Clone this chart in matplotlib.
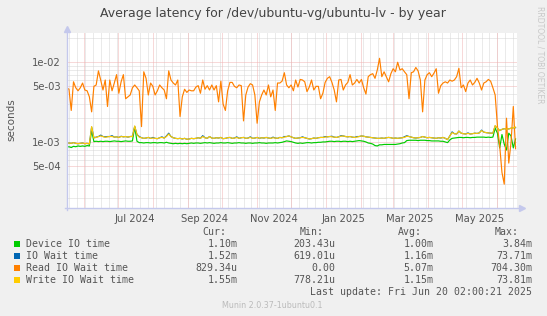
import datetime as dt

import matplotlib
matplotlib.use("Agg")
import matplotlib.pyplot as plt
import matplotlib.dates as mdates
from matplotlib.patches import Rectangle

# one sample every 2 days, starting 2024-05-17 (values in milliseconds)
START = dt.datetime(2024, 5, 17)
STEP_DAYS = 2

read_wait = [
    4.8, 4.6, 2.5, 5.7, 4.8, 4.4, 4.8, 5.5, 4.5, 4.4,
    3.7, 2.4, 5.0, 5.2, 7.8, 6.0, 4.5, 6.0, 2.8, 6.0,
    4.4, 5.5, 7.0, 4.1, 5.7, 7.0, 3.5, 3.7, 3.9, 4.8,
    5.2, 4.8, 4.4, 1.57, 7.6, 6.3, 3.9, 5.5, 5.0, 3.9,
    4.4, 5.2, 4.8, 4.5, 3.5, 7.8, 6.0, 5.5, 5.2, 6.0,
    2.1, 3.7, 4.6, 4.2, 4.5, 4.4, 4.4, 4.9, 5.1, 4.1,
    6.0, 4.6, 5.1, 4.5, 5.2, 4.5, 5.1, 3.2, 5.8, 3.0,
    2.5, 4.4, 5.6, 5.6, 5.0, 4.8, 5.2, 5.1, 1.85, 3.9,
    4.9, 5.4, 5.2, 3.9, 1.73, 3.2, 3.9, 4.5, 3.9, 5.2,
    3.7, 4.5, 2.5, 5.5,
    5.5, 5.8, 7.4, 5.2, 4.8, 5.2, 4.4, 6.0, 4.9, 6.1,
    6.0, 5.7, 4.3, 4.9, 6.0, 4.5, 5.0, 5.0, 3.5, 4.1,
    5.6, 6.3, 6.6, 5.6, 4.5, 3.2, 6.0, 6.1, 4.5, 5.2,
    5.6, 7.0, 5.2, 5.5, 6.1, 5.5, 6.1, 4.8, 4.0, 6.6,
    7.0, 7.2, 6.3, 8.0, 11.2, 6.6, 7.6, 6.6, 5.7, 7.2,
    8.3, 7.6, 10.0, 8.0, 8.3, 7.6, 7.0, 3.5, 7.4, 7.6,
    8.6, 7.8, 6.0, 2.4, 6.0, 7.0, 7.4, 6.6, 7.3, 8.3,
    4.1, 5.1, 5.5, 5.7, 5.5, 6.0, 5.8, 6.0, 6.6, 8.4,
    4.8, 5.2, 4.3, 5.5, 6.0, 5.2, 5.6, 6.3, 5.5, 4.5,
    5.5, 5.7, 6.1, 5.8, 4.8, 3.9, 1.6, 0.9, 0.42, 0.3,
    2.0, 0.55, 1.0, 2.8, 0.83,
]

write_wait = [
    0.97, 0.98, 0.97, 0.99, 0.97, 0.96, 0.97, 0.98, 0.96, 0.97,
    0.95, 1.57,
    1.13, 1.15, 1.18, 1.20, 1.18, 1.15, 1.17, 1.18, 1.18, 1.16,
    1.17, 1.15, 1.18, 1.17, 1.18, 1.16, 1.18, 1.18,
    1.60,
    1.25, 1.16, 1.14, 1.12, 1.13, 1.15, 1.12, 1.13, 1.12, 1.11,
    1.14, 1.15, 1.13, 1.18, 1.27, 1.18, 1.14, 1.12, 1.11, 1.12,
    1.10, 1.12, 1.09, 1.10, 1.12, 1.11, 1.12, 1.14, 1.12, 1.18,
    1.14, 1.12, 1.18, 1.13, 1.12, 1.14, 1.13, 1.15, 1.11, 1.12,
    1.14, 1.15, 1.12, 1.13, 1.15, 1.12, 1.14, 1.15, 1.12, 1.13,
    1.15, 1.12, 1.13, 1.15, 1.12, 1.14, 1.13, 1.15, 1.13, 1.12,
    1.14, 1.13, 1.12,
    1.15, 1.14, 1.16, 1.18, 1.20, 1.17, 1.14, 1.12, 1.13, 1.14,
    1.15, 1.14, 1.12, 1.10, 1.11, 1.13, 1.12, 1.14, 1.15, 1.15,
    1.16, 1.17, 1.18, 1.17, 1.16, 1.15, 1.17, 1.19, 1.20, 1.18,
    1.17, 1.18, 1.16, 1.15, 1.16, 1.18, 1.20, 1.19, 1.17, 1.16,
    1.15, 1.14, 1.13, 1.12, 1.12, 1.13, 1.12, 1.14, 1.15, 1.14,
    1.12, 1.13, 1.12, 1.13, 1.14, 1.15, 1.19, 1.18, 1.16, 1.14,
    1.13, 1.14, 1.15, 1.18, 1.16, 1.14, 1.15, 1.14, 1.13, 1.12,
    1.14, 1.13, 1.15, 1.12, 1.08, 1.20, 1.32, 1.28, 1.27, 1.38,
    1.30, 1.28, 1.27, 1.29, 1.27, 1.28, 1.30, 1.29, 1.31, 1.40,
    1.34, 1.32, 1.31, 1.30, 1.30, 1.62, 1.50, 1.40, 1.45, 1.48,
    1.46, 1.47, 1.50, 1.52, 1.55,
]

io_wait = [
    0.97, 0.98, 0.97, 0.99, 0.97, 0.96, 0.97, 0.98, 0.96, 0.97,
    0.95, 1.55,
    1.14, 1.16, 1.18, 1.23, 1.18, 1.17, 1.18, 1.18, 1.21, 1.16,
    1.17, 1.15, 1.19, 1.17, 1.18, 1.16, 1.18, 1.19,
    1.58,
    1.25, 1.18, 1.14, 1.12, 1.13, 1.15, 1.12, 1.15, 1.12, 1.11,
    1.14, 1.17, 1.13, 1.20, 1.30, 1.18, 1.14, 1.12, 1.11, 1.12,
    1.10, 1.12, 1.09, 1.10, 1.12, 1.11, 1.12, 1.14, 1.12, 1.21,
    1.14, 1.12, 1.18, 1.13, 1.12, 1.14, 1.13, 1.15, 1.11, 1.12,
    1.14, 1.15, 1.12, 1.13, 1.17, 1.12, 1.14, 1.15, 1.12, 1.13,
    1.17, 1.12, 1.13, 1.15, 1.12, 1.14, 1.13, 1.15, 1.13, 1.12,
    1.16, 1.13, 1.12,
    1.15, 1.14, 1.18, 1.18, 1.20, 1.17, 1.14, 1.12, 1.13, 1.14,
    1.17, 1.14, 1.12, 1.10, 1.11, 1.13, 1.12, 1.14, 1.15, 1.15,
    1.18, 1.17, 1.18, 1.19, 1.16, 1.15, 1.17, 1.21, 1.20, 1.18,
    1.17, 1.18, 1.16, 1.15, 1.18, 1.18, 1.20, 1.19, 1.17, 1.16,
    1.15, 1.14, 1.13, 1.12, 1.12, 1.13, 1.12, 1.14, 1.15, 1.14,
    1.12, 1.13, 1.12, 1.13, 1.14, 1.17, 1.21, 1.18, 1.16, 1.14,
    1.13, 1.14, 1.15, 1.18, 1.16, 1.14, 1.15, 1.14, 1.13, 1.12,
    1.14, 1.13, 1.15, 1.12, 1.08, 1.20, 1.35, 1.28, 1.27, 1.38,
    1.30, 1.28, 1.27, 1.31, 1.27, 1.28, 1.30, 1.29, 1.31, 1.42,
    1.34, 1.32, 1.31, 1.30, 1.30, 1.60, 1.50, 1.40, 1.45, 1.48,
    1.46, 1.47, 1.50, 1.52, 1.52,
]

device_io = [
    0.87, 0.88, 0.86, 0.89, 0.88, 0.90, 0.89, 0.90, 0.89, 0.91,
    0.90, 1.40,
    1.02, 1.03, 1.02, 1.03, 1.02, 1.03, 1.03, 1.02, 1.03, 1.04,
    1.03, 1.03, 1.02, 1.03, 1.04, 1.03, 1.03, 1.04,
    1.55,
    1.03, 0.99, 0.99, 0.98, 0.99, 0.99, 0.98, 0.99, 0.99, 0.98,
    0.99, 0.99, 0.98, 1.00, 0.98, 0.97, 0.96, 0.97, 0.96, 0.97,
    0.96, 0.97, 0.96, 0.97, 0.98, 0.97, 0.98, 0.98, 0.97, 0.98,
    0.99, 0.98, 0.99, 0.98, 0.97, 0.98, 0.98, 0.99, 0.98, 0.98,
    0.99, 0.98, 0.97, 0.98, 0.98, 0.99, 0.98, 0.98, 0.97, 0.98,
    0.98, 0.97, 0.98, 0.98, 0.99, 0.98, 0.98, 0.97, 0.98, 0.98,
    0.98, 0.99, 0.98,
    0.99, 1.00, 1.02, 1.04, 1.03, 1.02, 1.00, 0.98, 0.97, 0.98,
    0.97, 0.98, 0.99, 0.99, 0.98, 0.99, 0.99, 1.00, 1.00, 1.01,
    1.01, 1.02, 1.03, 1.03, 1.02, 1.03, 1.03, 1.02, 1.03, 1.03,
    1.02, 1.03, 1.02, 1.03, 1.04, 1.05, 1.04, 1.03, 1.01, 0.98,
    0.97, 0.95, 0.91, 0.90, 0.93, 0.93, 0.94, 0.94, 0.94, 0.94,
    0.94, 0.94, 0.95, 0.96, 0.98, 0.99, 1.05, 1.06, 1.06, 1.06,
    1.06, 1.05, 1.06, 1.06, 1.06, 1.05, 1.05, 1.04, 1.04, 1.04,
    1.04, 1.03, 1.03, 1.01, 0.99, 1.07, 1.12, 1.13, 1.14, 1.15,
    1.15, 1.14, 1.15, 1.15, 1.14, 1.15, 1.15, 1.16, 1.16, 1.16,
    1.16, 1.15, 1.16, 1.15, 1.16, 1.50, 1.30, 0.85, 1.25, 0.95,
    0.80, 1.30, 1.20, 0.85, 1.10,
]

series_names = ["Device IO time", "IO Wait time", "Read IO Wait time", "Write IO Wait time"]
series_colors = ["#00CC00", "#0066B3", "#FF8000", "#FFCC00"]
cur_vals = ["1.10m", "1.52m", "829.34u", "1.55m"]
min_vals = ["203.43u", "619.01u", "0.00", "778.21u"]
avg_vals = ["1.00m", "1.16m", "5.07m", "1.15m"]
max_vals = ["3.84m", "73.71m", "704.30m", "73.81m"]

x_start = dt.datetime(2024, 5, 17)
x_end = dt.datetime(2025, 6, 18)
label_months = [(2024, 7), (2024, 9), (2024, 11), (2025, 1), (2025, 3), (2025, 5)]

W, H = 547, 316
BG = "#F0F0F0"
TXT = "#555555"


def fx(px):
    return px / W


def fy(py):
    return 1 - py / H


fig = plt.figure(figsize=(W / 100, H / 100), dpi=100, facecolor=BG)
ax = fig.add_axes([fx(66.7), fy(208), (516.7 - 66.7) / W, (208 - 33) / H])
ax.set_facecolor("white")
for s in ax.spines.values():
    s.set_visible(False)

ax.set_yscale("log")
ax.set_ylim(1.51e-4, 2.32e-2)
ax.set_xlim(mdates.date2num(x_start), mdates.date2num(x_end))

# grid: weekly gray, monthly red
gray = "#D6D6D6"
red = "#F0B4B4"
dots = (0, (1, 1))
d = x_start
while d <= x_end:
    if d.weekday() == 6:
        ax.axvline(mdates.date2num(d), color=gray, lw=0.72, ls=dots, zorder=1)
    d += dt.timedelta(days=1)
for y in range(2024, 2026):
    for m in range(1, 13):
        md = dt.datetime(y, m, 1)
        if x_start <= md <= x_end:
            ax.axvline(mdates.date2num(md), color=red, lw=0.72, ls=dots, zorder=2)
for dec in [1e-4, 1e-3, 1e-2]:
    for k in range(1, 10):
        v = k * dec
        if 1.51e-4 < v < 2.32e-2:
            major = k in (1, 5)
            ax.axhline(v, color=red if major else gray, lw=0.72, ls=dots,
                       zorder=2 if major else 1)

dates = [START + dt.timedelta(days=STEP_DAYS * i) for i in range(len(read_wait))]
all_series = [device_io, io_wait, read_wait, write_wait]
for i, (vals, col) in enumerate(zip(all_series, series_colors)):
    ax.plot(dates, [v * 1e-3 for v in vals], color=col, lw=0.85, zorder=3 + i)

ax.yaxis.set_minor_locator(matplotlib.ticker.NullLocator())
ax.set_yticks([1e-2, 5e-3, 1e-3, 5e-4])
ax.set_yticklabels(["1e-02", "5e-03", "1e-03", "5e-04"])
ax.set_xticks([mdates.date2num(dt.datetime(y, m, 16)) for y, m in label_months])
ax.set_xticklabels([dt.datetime(y, m, 1).strftime("%b %Y") for y, m in label_months])
ax.tick_params(axis="both", length=0, labelsize=7.2, colors=TXT)
ax.tick_params(axis="y", pad=4.5)
ax.tick_params(axis="x", pad=4)

# axes with arrows
axc = "#C4C8EC"
ax.plot([-0.004, 1.006], [0, 0], color=axc, lw=1, transform=ax.transAxes,
        clip_on=False, zorder=10)
ax.plot([1.012], [0], marker=">", ms=4, color=axc, transform=ax.transAxes,
        clip_on=False, zorder=10)
ax.plot([0, 0], [-0.01, 1.01], color=axc, lw=1, transform=ax.transAxes,
        clip_on=False, zorder=10)
ax.plot([0], [1.025], marker="^", ms=4, color=axc, transform=ax.transAxes,
        clip_on=False, zorder=10)

fig.text(fx(273), fy(13), "Average latency for /dev/ubuntu-vg/ubuntu-lv - by year",
         ha="center", va="center", fontsize=9, color="#444444")
fig.text(fx(11), fy(120), "seconds", rotation=90, ha="center", va="center",
         fontsize=7.5, color=TXT)
fig.text(fx(540), fy(6), "RRDTOOL / TOBI OETIKER", rotation=270, ha="center",
         va="top", fontsize=5.5, color="#C8C8C8")

mono = "DejaVu Sans Mono"
lfs = 7.1
col_hdr = [("Cur:", 226), ("Min:", 324), ("Avg:", 421.6), ("Max:", 519)]
for txt, xr in col_hdr:
    fig.text(fx(xr), fy(232), txt, ha="right", va="center", family=mono,
             fontsize=lfs, color=TXT)
val_cols = [(cur_vals, 237.6), (min_vals, 335.5), (avg_vals, 433.8), (max_vals, 532)]
for i, name in enumerate(series_names):
    ry = 244 + 12 * i
    fig.patches.append(Rectangle((fx(13.5), fy(ry + 3)), 6 / W, 6 / H,
                                 transform=fig.transFigure, facecolor=series_colors[i],
                                 edgecolor="none"))
    fig.text(fx(26), fy(ry), name, ha="left", va="center", family=mono,
             fontsize=lfs, color=TXT)
    for vals, xr in val_cols:
        fig.text(fx(xr), fy(ry), vals[i], ha="right", va="center", family=mono,
                 fontsize=lfs, color=TXT)

fig.text(fx(532), fy(292), "Last update: Fri Jun 20 02:00:21 2025", ha="right",
         va="center", family=mono, fontsize=lfs, color=TXT)
fig.text(fx(272), fy(305), "Munin 2.0.37-1ubuntu0.1", ha="center", va="center",
         fontsize=5.8, color="#BBBBBB")

fig.savefig("out.png", dpi=100, facecolor=BG)
